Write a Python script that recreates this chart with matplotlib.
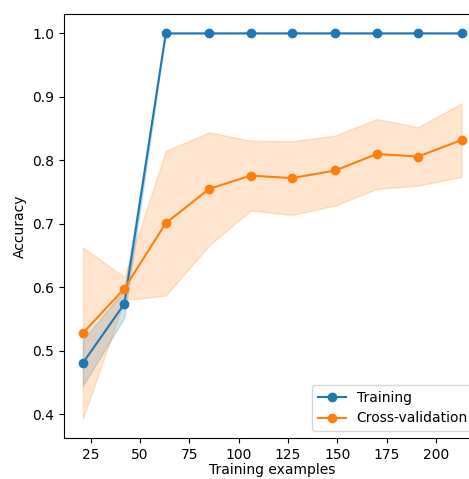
import matplotlib
matplotlib.use('Agg')
import matplotlib.pyplot as plt
import numpy as np

# learning curve values
train_sizes = [21, 42, 63, 85, 106, 127, 149, 170, 191, 213]
train_mean = [0.481, 0.574, 1.0, 1.0, 1.0, 1.0, 1.0, 1.0, 1.0, 1.0]
train_std = [0.036, 0.022, 0.0, 0.0, 0.0, 0.0, 0.0, 0.0, 0.0, 0.0]
test_mean = [0.528, 0.598, 0.701, 0.755, 0.776, 0.772, 0.784, 0.810, 0.806, 0.832]
test_std = [0.135, 0.018, 0.114, 0.089, 0.055, 0.058, 0.055, 0.055, 0.046, 0.058]

train_mean, train_std = np.array(train_mean), np.array(train_std)
test_mean, test_std = np.array(test_mean), np.array(test_std)

fig = plt.figure(figsize=(4.69, 4.79), dpi=100)
# right edge of the axes lies past the canvas, as in the reference crop
ax = fig.add_axes([0.1365, 0.0856, 0.888, 0.885])

ax.fill_between(train_sizes, train_mean - train_std, train_mean + train_std,
                color='C0', alpha=0.2)
ax.fill_between(train_sizes, test_mean - test_std, test_mean + test_std,
                color='C1', alpha=0.2)
ax.plot(train_sizes, train_mean, 'o-', color='C0', label='Training')
ax.plot(train_sizes, test_mean, 'o-', color='C1', label='Cross-validation')

ax.set_xlabel('Training examples', labelpad=1)
ax.set_ylabel('Accuracy')
ax.set_xticks([25, 50, 75, 100, 125, 150, 175, 200])
ax.set_yticks([0.4, 0.5, 0.6, 0.7, 0.8, 0.9, 1.0])
ax.legend(loc='lower right')

fig.savefig('out.png', dpi=100)
